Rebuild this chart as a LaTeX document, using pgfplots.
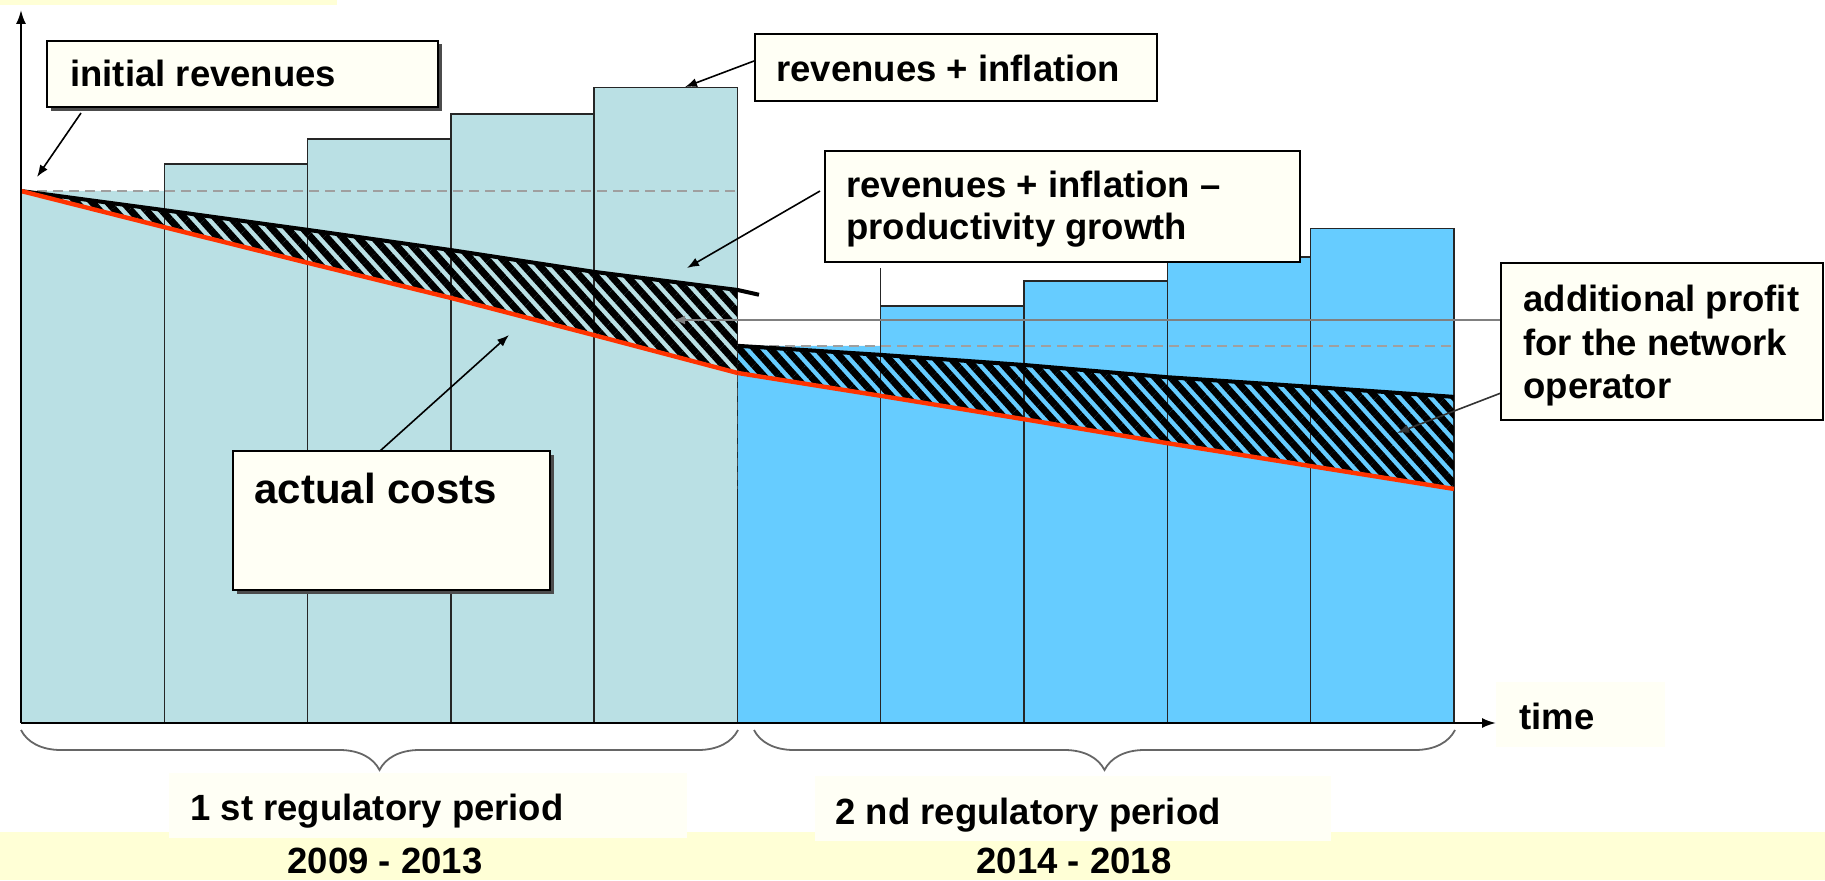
\documentclass[border=0pt]{standalone}
\usepackage{pgfplots}
\pgfplotsset{compat=1.18}
\usepgfplotslibrary{fillbetween}
\usetikzlibrary{patterns.meta, arrows.meta, decorations.pathreplacing}
\usepackage{fontspec}
\setmainfont{Liberation Sans}
\definecolor{pone}{HTML}{BAE0E4}
\definecolor{ptwo}{HTML}{66CCFF}
\definecolor{band}{HTML}{FFFFD6}
\definecolor{ivory}{HTML}{FFFFF5}
\definecolor{costred}{HTML}{FF3300}

\begin{document}
\begin{tikzpicture}
% background band (pixel coordinates of the 1825x880 reference, y downwards)
\begin{scope}[shift={(0,440pt)}, x=0.5pt, y=-0.5pt]
  \fill[band] (0,832) rectangle (1825,880);
  \fill[band] (0,0) rectangle (337,5);
\end{scope}

\begin{axis}[
  width=912.5pt, height=440pt, scale only axis,
  xmin=-0.14655, xmax=12.5894, ymin=-29.511, ymax=135.902,
  hide axis, clip=false,
]
% bar fills
\addplot[ybar interval, fill=pone, draw=none] coordinates {(0,100) (1,105.1) (2,109.8) (3,114.5) (4,119.5) (5,119.5)};
\addplot[ybar interval, fill=ptwo, draw=none] coordinates {(5,70.9) (6,78.4) (7,83.1) (8,87.6) (9,92.9) (10,92.9)};
% bar outlines
\addplot[ybar interval, fill=none, draw=black!85, line width=0.7pt] coordinates {(1,105.1) (2,109.8) (3,114.5) (4,119.5) (5,0)};
\addplot[ybar interval, fill=none, draw=black!85, line width=0.7pt] coordinates {(6,78.4) (7,83.1) (8,87.6) (9,92.9) (10,0)};
\addplot[black!85, line width=0.7pt] coordinates {(6,78.4) (6,85.5)};
% dashed initial revenue levels
\addplot[gray!75, line width=0.8pt, dash pattern=on 5pt off 3pt] coordinates {(0,100) (5,100)};
\addplot[gray!75, line width=0.8pt, dash pattern=on 5pt off 3pt] coordinates {(5,70.9) (10,70.9)};
\addplot[black!70, line width=0.7pt, dash pattern=on 4pt off 3pt] coordinates {(5,70.9) (5,44.0)};
% allowed revenues (revenues + inflation - productivity growth) and actual costs
\addplot[name path=b1, draw=none] coordinates {(0,100) (1,96.4) (2,92.7) (3,88.9) (4,84.8) (5,81.4)};
\addplot[name path=r1, draw=none] coordinates {(0,100) (1,93.2) (2,86.5) (3,79.9) (4,72.9) (5,65.8)};
\addplot[name path=b2, draw=none] coordinates {(5,70.9) (6,69.2) (7,67.3) (8,65.0) (9,63.2) (10,61.3)};
\addplot[name path=r2, draw=none] coordinates {(5,65.8) (6,61.5) (7,57.1) (8,52.6) (9,48.3) (10,44.0)};
\addplot[pattern={Lines[angle=-48, distance=5.8pt, line width=3.5pt]}, pattern color=black, draw=none] fill between[of=b1 and r1, on layer=main];
\addplot[pattern={Lines[angle=-48, distance=5.8pt, line width=3.5pt]}, pattern color=black, draw=none] fill between[of=b2 and r2, on layer=main];
\addplot[black, line width=2pt] coordinates {(0,100) (1,96.4) (2,92.7) (3,88.9) (4,84.8) (5,81.4) (5.15,80.5)};
\addplot[black, line width=2pt] coordinates {(5,70.9) (6,69.2) (7,67.3) (8,65.0) (9,63.2) (10,61.3)};
\addplot[costred, line width=2.2pt] coordinates {(0,100) (1,93.2) (2,86.5) (3,79.9) (4,72.9) (5,65.8)};
\addplot[costred, line width=2.2pt] coordinates {(5,65.8) (6,61.5) (7,57.1) (8,52.6) (9,48.3) (10,44.0)};
\end{axis}

\begin{scope}[shift={(0,440pt)}, x=0.5pt, y=-0.5pt,
  txt/.style={inner sep=0pt, anchor=base west, font=\fontsize{18.25}{22}\selectfont\bfseries},
  box/.style={fill=ivory, draw=black, line width=1pt},
  arr/.style={line width=0.8pt, -{Latex[length=6pt, width=4.5pt]}}]
  % axes
  \draw[line width=1pt, -{Latex[length=7pt, width=5pt]}] (21,723) -- (21,10);
  \draw[line width=1pt, -{Latex[length=7pt, width=5pt]}] (21,723) -- (1496,723);
  % grey pointer from the additional profit box
  \draw[gray, line width=1.2pt, -{Latex[length=6pt, width=4.5pt]}] (1501,320) -- (673,320);
  \draw[arr, black!80] (1501,393) -- (1397,433);
  % initial revenues
  \fill[black!70] (51,44) rectangle (442,111);
  \draw[box] (47,41) rectangle (438,107);
  \node[txt] at (70,87) {initial revenues};
  \draw[arr] (81,113) -- (37,177);
  % revenues + inflation
  \draw[box] (755,34) rectangle (1157,101);
  \node[txt] at (776,82) {revenues + inflation};
  \draw[arr] (754,61) -- (685,87);
  % revenues + inflation - productivity growth
  \draw[box] (825,151) rectangle (1300,262);
  \node[txt] at (846,198) {revenues + inflation –};
  \node[txt] at (846,240) {productivity growth};
  \draw[arr] (820,191) -- (687,268);
  % additional profit
  \draw[box] (1501,263) rectangle (1823,420);
  \node[txt] at (1523,311) {additional profit};
  \node[txt] at (1523,355) {for the network};
  \node[txt] at (1523,398) {operator};
  % actual costs
  \fill[black!70] (237,455) rectangle (554,594);
  \draw[box] (233,451) rectangle (550,590);
  \node[inner sep=0pt, anchor=base west, font=\fontsize{21}{25}\selectfont\bfseries] at (254,503) {actual costs};
  \draw[arr] (380,451) -- (509,335);
  % time
  \fill[ivory] (1496,682) rectangle (1665,747);
  \node[txt] at (1519,729) {time};
  % braces
  \draw[black!60, line width=0.9pt, decorate, decoration={brace, mirror, amplitude=20pt}] (21,730) -- (738,730);
  \draw[black!60, line width=0.9pt, decorate, decoration={brace, mirror, amplitude=20pt}] (754,730) -- (1455,730);
  % period labels
  \fill[ivory] (169,773) rectangle (687,838);
  \node[txt] at (190,820) {1 st regulatory period};
  \fill[ivory] (815,776) rectangle (1331,841);
  \node[txt] at (835,824) {2 nd regulatory period};
  \node[txt, anchor=base] at (385,873) {2009 - 2013};
  \node[txt, anchor=base] at (1074,873) {2014 - 2018};
\end{scope}
\pgfresetboundingbox
\path (0,0) rectangle (912.5pt,440pt);
\end{tikzpicture}
\end{document}
